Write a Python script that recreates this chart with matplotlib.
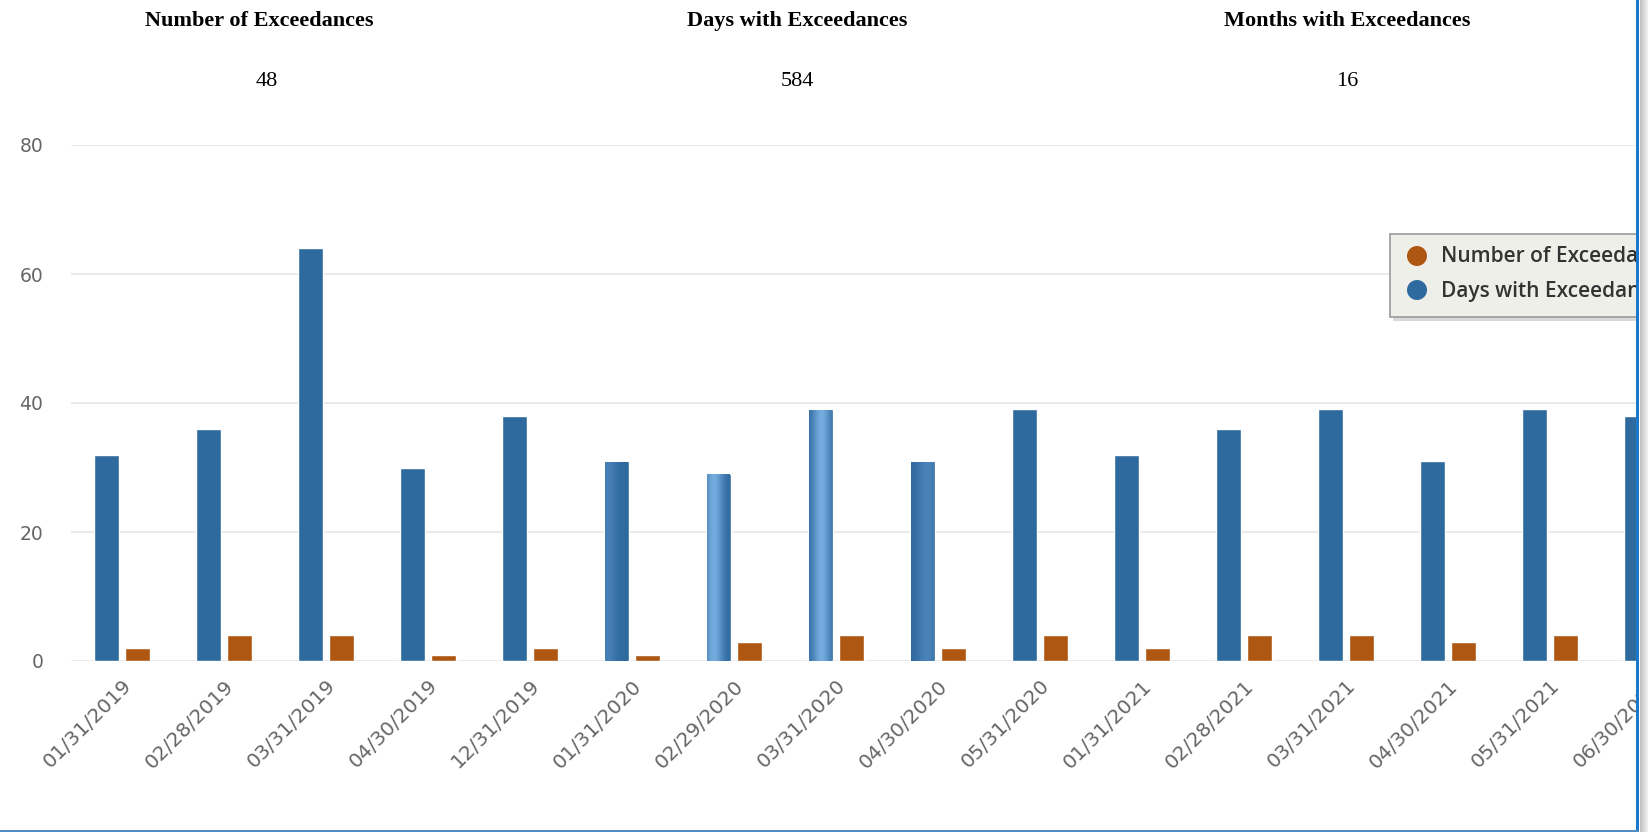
import numpy as np
import matplotlib
matplotlib.use("Agg")
import matplotlib.pyplot as plt
from matplotlib.patches import Rectangle, Circle

# data
dates = ["01/31/2019", "02/28/2019", "03/31/2019", "04/30/2019", "12/31/2019",
         "01/31/2020", "02/29/2020", "03/31/2020", "04/30/2020", "05/31/2020",
         "01/31/2021", "02/28/2021", "03/31/2021", "04/30/2021", "05/31/2021",
         "06/30/2021"]
days_with = [32, 36, 64, 30, 38, 31, 29, 39, 31, 39, 32, 36, 39, 31, 39, 38]
num_exceed = [2, 4, 4, 1, 2, 1, 3, 4, 2, 4, 2, 4, 4, 3, 4, 4]
summary_titles = ["Number of Exceedances", "Days with Exceedances", "Months with Exceedances"]
summary_values = [sum(num_exceed), sum(days_with), len(dates)]

BLUE = "#2F6A9F"
LIGHT_BLUE = "#7DB3E6"
ORANGE = "#AD5713"
W, H = 1648, 832

fig = plt.figure(figsize=(W / 100, H / 100), dpi=100)
fig.patch.set_facecolor("white")

# main plot area: left edge at px 71, zero line at px 661, 80 at px 145
# right side runs past the screenshot edge (the page was cut off)
left_px, right_px, top_px, bot_px = 71, 1700, 145, 661
ax = fig.add_axes([left_px / W, (H - bot_px) / H,
                   (right_px - left_px) / W, (bot_px - top_px) / H])
cat_px = 102.0
x0 = -0.5
xlim = (x0, x0 + (right_px - left_px) / cat_px)

x = np.arange(len(dates))
bw = 0.24
ax.bar(x - 0.152, days_with, bw, color=BLUE, edgecolor="white", linewidth=1.0, zorder=2)
ax.bar(x + 0.154, num_exceed, bw, color=ORANGE, edgecolor="white", linewidth=1.0, zorder=2)

# hover-like highlight shading on a few of the blue bars
shading = {5: (0.1, 0.3), 6: (0.3, 0.9), 7: (0.55, 0.9), 8: (0.7, 0.35)}
dark = np.array(matplotlib.colors.to_rgb(BLUE))
light = np.array(matplotlib.colors.to_rgb(LIGHT_BLUE))
for i, (pos, strength) in shading.items():
    t = np.linspace(0, 1, 60)
    k = strength * np.exp(-((t - pos) / 0.4) ** 2)
    img = dark[None, :] + k[:, None] * (light - dark)[None, :]
    xl = i - 0.152 - bw / 2 + 0.01
    ax.imshow(img[None, :, :], extent=[xl, xl + bw - 0.02, 0, days_with[i] - 0.15],
              aspect="auto", zorder=3, interpolation="bilinear")
ax.set_xlim(*xlim)
ax.set_ylim(0, 80)

ax.set_yticks([0, 20, 40, 60, 80])
ax.grid(axis="y", color="#e6e6e6", linewidth=1.2)
ax.set_axisbelow(True)
for s in ax.spines.values():
    s.set_visible(False)
ax.tick_params(axis="y", length=0, pad=20, labelsize=13.5, labelcolor="#666666")
ax.set_xticks(x)
ax.set_xticklabels(dates, rotation=45, ha="right", va="top", rotation_mode="anchor")
ax.tick_params(axis="x", length=0, pad=11, labelsize=14.5, labelcolor="#666666")

# overlay in pixel coordinates for titles, legend and page frame
ov = fig.add_axes([0, 0, 1, 1])
ov.axis("off")
ov.set_zorder(5)
ov.patch.set_alpha(0)

title_x = [259, 797, 1347]
value_x = [267, 797, 1347]
for tx, vx, t, v in zip(title_x, value_x, summary_titles, summary_values):
    ov.text(tx, 21, t, ha="center", va="center", fontsize=16, fontweight="bold",
            family="Liberation Serif", color="black")
    ov.text(vx, 82, str(v), ha="center", va="center", fontsize=16,
            family="Liberation Serif", color="black")

# legend box (cut off at the right edge)
ov.add_patch(Rectangle((1393, 238), 320, 83, facecolor="#d9d9d9", edgecolor="none", zorder=1))
ov.add_patch(Rectangle((1390, 234), 320, 83, facecolor="#efefea", edgecolor="#9a9a9a",
                       linewidth=1.2, zorder=2))
ov.add_patch(Circle((1417, 256), 10, facecolor=ORANGE, edgecolor="none", zorder=3))
ov.add_patch(Circle((1417, 290), 10, facecolor=BLUE, edgecolor="none", zorder=3))
ov.text(1441, 257, "Number of Exceedances", ha="left", va="center", fontsize=15,
        fontweight="semibold", family="Open Sans", color="#333333", zorder=3)
ov.text(1441, 291, "Days with Exceedances", ha="left", va="center", fontsize=15,
        fontweight="semibold", family="Open Sans", color="#333333", zorder=3)

# page edge: blue frame and grey shadow on the right
ov.add_patch(Rectangle((1636, 0), 12, H, facecolor="white", edgecolor="none", zorder=10))
shadow = np.linspace(0.75, 0.95, 20)
ov.imshow(np.tile(shadow, (2, 1)), cmap="gray", vmin=0, vmax=1,
          extent=[1640, 1648, H, 0], aspect="auto", zorder=11)
ov.add_patch(Rectangle((1636, 0), 3, H, facecolor="#1b78cc", edgecolor="none", zorder=12))
ov.add_patch(Rectangle((0, 829.5), 1639, 2.5, facecolor="#4f8cc0", edgecolor="none", zorder=12))
ov.set_xlim(0, W)
ov.set_ylim(H, 0)

fig.savefig("out.png", dpi=100)
